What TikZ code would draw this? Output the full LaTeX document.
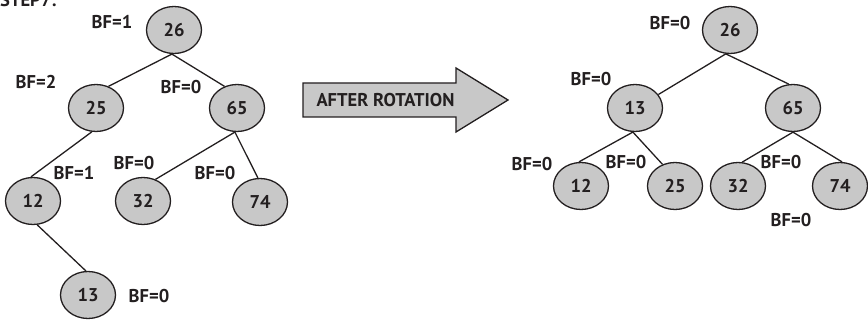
\documentclass[tikz,border=0pt]{standalone}
\usepackage{fontspec}
\setmainfont{PT Sans}
\usetikzlibrary{shapes.geometric}
\definecolor{nodegray}{RGB}{200,200,200}
\definecolor{ink}{RGB}{35,31,32}
\tikzset{
  tnode/.style={ellipse, draw=ink, line width=1.3pt, fill=nodegray, minimum width=55pt, minimum height=47pt, inner sep=0pt, font=\fontsize{18.5}{22}\selectfont\bfseries, text=ink},
  bf/.style={font=\fontsize{18.5}{22}\selectfont\bfseries, text=ink, inner sep=0pt},
  edge/.style={draw=ink, line width=1.3pt},
}
\begin{document}
\begin{tikzpicture}[x=1pt, y=-1pt]
\useasboundingbox (0,0) rectangle (868,320);
% title
\node[bf, anchor=base west] (step) at (0,7) {STEP7:};
% left tree
\node[tnode] (L26) at (174,30) {26};
\node[tnode] (L25) at (96,108) {25};
\node[tnode] (L65) at (237,108) {65};
\node[tnode] (L12) at (33,201) {12};
\node[tnode] (L32) at (143,201) {32};
\node[tnode] (L74) at (260,202) {74};
\node[tnode] (L13) at (88,295) {13};
\draw[edge] (L26.-95) -- (L25.60);
\draw[edge] (L26.-95) -- (L65.120);
\draw[edge] (L25.-100) -- (L12.95);
\draw[edge] (L12.-80) -- (L13.95);
\draw[edge] (L65.-95) -- (L32.60);
\draw[edge] (L65.-95) -- (L74.95);
\node[bf] (bL26) at (112,22) {BF=1};
\node[bf] (bL25) at (36,82) {BF=2};
\node[bf] (bL65) at (181,87) {BF=0};
\node[bf] (bL12) at (74,173) {BF=1};
\node[bf] (bL32) at (134,163) {BF=0};
\node[bf] (bL74) at (215,173) {BF=0};
\node[bf] (bL13) at (149,296) {BF=0};
% arrow
\filldraw[fill=nodegray, draw=ink, line width=1.3pt]
  (303,83) -- (456,83) -- (456,68) -- (508,100) -- (456,132) -- (456,117) -- (303,117) -- cycle;
\node[bf] (arrtext) at (385.5,100) {AFTER ROTATION};
% right tree
\node[tnode] (R26) at (730,30) {26};
\node[tnode] (R13) at (635,108) {13};
\node[tnode] (R65) at (793,108) {65};
\node[tnode] (R12) at (581,186) {12};
\node[tnode] (R25) at (675,186) {25};
\node[tnode] (R32) at (738,186) {32};
\node[tnode] (R74) at (840,186) {74};
\draw[edge] (R26.-100) -- (R13.30);
\draw[edge] (R26.-100) -- (R65.100);
\draw[edge] (R13.-95) -- (R12.95);
\draw[edge] (R13.-95) -- (R25.120);
\draw[edge] (R65.-90) -- (R32.80);
\draw[edge] (R65.-90) -- (R74.85);
\node[bf] (bR26) at (670,23) {BF=0};
\node[bf] (bR13) at (591,79) {BF=0};
\node[bf] (bR12) at (532,164) {BF=0};
\node[bf] (bR25) at (626,162) {BF=0};
\node[bf] (bR32) at (781,162) {BF=0};
\node[bf] (bR74) at (791,220) {BF=0};
\end{tikzpicture}
\end{document}
